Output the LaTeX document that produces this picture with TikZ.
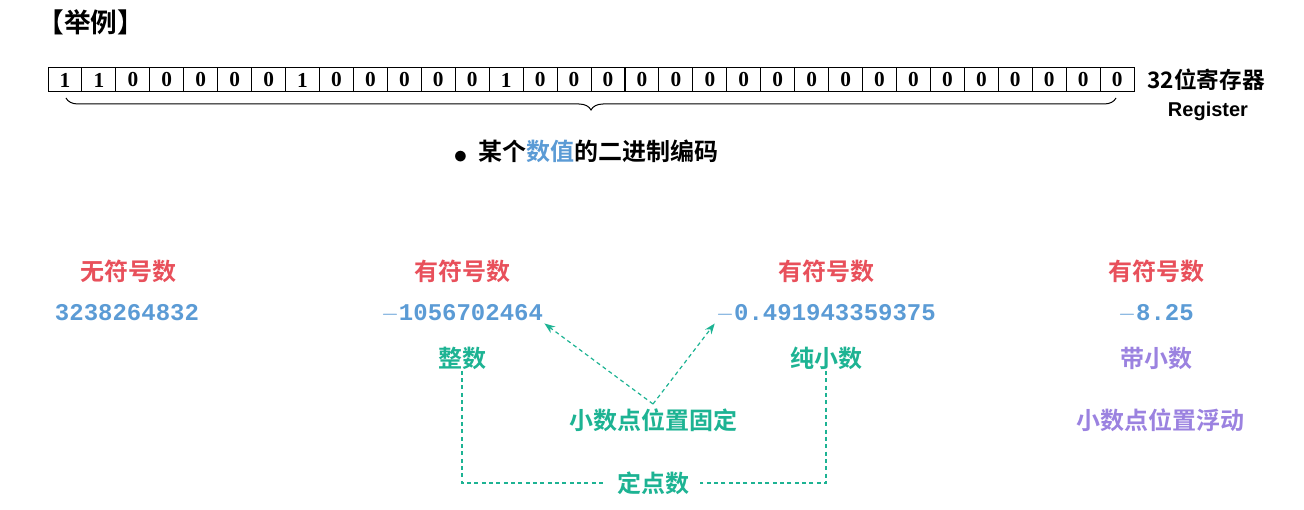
\documentclass[tikz,border=0pt]{standalone}
\usepackage{fontspec}
\setmainfont{Liberation Serif}
\newfontfamily\cjk{Noto Sans CJK SC}[BoldFont={* Bold}]
\newfontfamily\arialfont{Liberation Sans}
\newfontfamily\numfont{Liberation Mono}
\usetikzlibrary{decorations.pathreplacing,arrows.meta}
\definecolor{tred}{HTML}{E8505B}
\definecolor{tblue}{HTML}{5B9BD5}
\definecolor{tgreen}{HTML}{1DB393}
\definecolor{tpurple}{HTML}{9B82E0}
\tikzset{every picture/.style={line width=0.75pt}}
\tikzset{
  bitbox/.style={draw,minimum width=25.4pt,minimum height=18pt,inner sep=0pt,font=\fontsize{16}{16}\selectfont\bfseries},
  cn/.style={inner sep=0.75pt,font=\cjk\bfseries\fontsize{18}{18}\selectfont},
  num/.style={inner sep=0.75pt,text=tblue,font=\numfont\bfseries\fontsize{18}{18}\selectfont},
  dline/.style={tgreen,dash pattern={on 3pt off 2.5pt},line width=0.9pt}
}
\begin{document}
\begin{tikzpicture}[x=0.75pt,y=0.75pt,yscale=-1,xscale=1]
	\useasboundingbox (0,0) rectangle (1304,510);
	
	%Title
	\node[cn,anchor=west,font=\cjk\bfseries\fontsize{20}{20}\selectfont] (title) at (36,22) {【举例】};
	
	%Register bits
	\foreach \b [count=\i from 0] in {1,1,0,0,0,0,0,1,0,0,0,0,0,1,0,0,0,0,0,0,0,0,0,0,0,0,0,0,0,0,0,0}
		\node[bitbox] (b\i) at ({48+33.94*\i+16.97},80) {\b};
	\node[cn,anchor=west,font=\cjk\bfseries\fontsize{17}{17}\selectfont] (reg) at (1146,80) {32位寄存器};
	\node[inner sep=0.75pt,font=\arialfont\bfseries\fontsize{15}{15}\selectfont] (regen) at (1208,111) {Register};
	
	%Brace
	\coordinate (bl) at (66,98);
	\coordinate (br) at (1116,98);
	\draw[decorate,decoration={brace,amplitude=9pt,mirror}] (bl) -- (br);
	\node[cn] (code) at (586,152) {\raisebox{-2pt}{\huge$\bullet$}\ \ 某个\textcolor{tblue}{数值}的二进制编码};
	
	%Interpretations
	\node[cn,text=tred] (u1) at (128,271) {无符号数};
	\node[cn,text=tred] (s1) at (462,271) {有符号数};
	\node[cn,text=tred] (s2) at (826,271) {有符号数};
	\node[cn,text=tred] (s3) at (1156,271) {有符号数};
	\node[num] (n1) at (127,313) {3238264832};
	\node[num] (n2) at (462,313) {$-$1056702464};
	\node[num] (n3) at (826,313) {$-$0.491943359375};
	\node[num] (n4) at (1156,313) {$-$8.25};
	\node[cn,text=tgreen] (int) at (462,358) {整数};
	\node[cn,text=tgreen] (frac) at (826,358) {纯小数};
	\node[cn,text=tpurple] (mix) at (1156,358) {带小数};
	\node[cn,text=tgreen] (fixed) at (653,420) {小数点位置固定};
	\node[cn,text=tpurple] (float) at (1160,420) {小数点位置浮动};
	\node[cn,text=tgreen,inner xsep=8pt] (fixnum) at (653,483) {定点数};
	
	%Connectors
	\draw[dline,-{Stealth[length=8pt]}] (fixed.north) ++(0,-3) -- (n2.south east);
	\draw[dline,-{Stealth[length=8pt]}] (fixed.north) ++(0,-3) -- (n3.south west);
	\draw[dline] (int.south) -- (int.south |- fixnum) -- (fixnum.west);
	\draw[dline] (frac.south) -- (frac.south |- fixnum) -- (fixnum.east);
	
\end{tikzpicture}
\end{document}
